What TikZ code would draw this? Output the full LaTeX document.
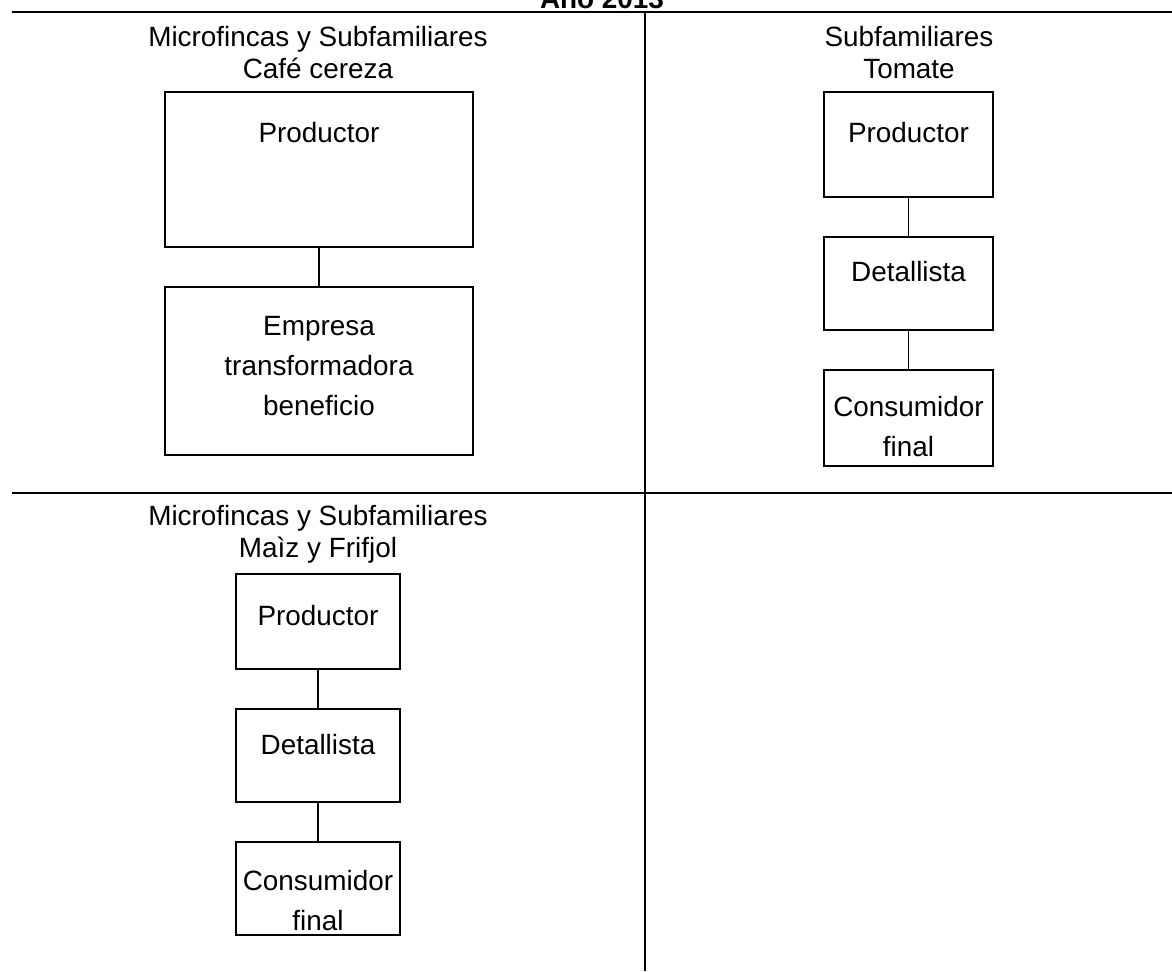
\documentclass[tikz,border=0pt]{standalone}
\usepackage{fontspec}
\setmainfont{Liberation Sans}
\usetikzlibrary{positioning}

\begin{document}
\begin{tikzpicture}[x=0.03cm,y=-0.03cm,node distance=1.2cm,
	flowbox/.style={draw,line width=1.5pt,inner sep=0pt,outer sep=0pt},
	boxtext/.style={align=center,inner sep=0pt,font=\fontsize{23.8}{34}\selectfont},
	head/.style={align=center,inner sep=0pt,font=\fontsize{23.8}{27.3}\selectfont},
	rule/.style={line width=2pt},
	link/.style={line width=1.5pt}]
	\useasboundingbox (0,0) rectangle (1172,971);

	% title (cut by the page edge)
	\node[inner sep=0pt,anchor=base,font=\fontsize{23.8}{27}\selectfont\bfseries] (title) at (602,8) {Año 2013};

	% frame lines
	\draw[rule] (12,12) -- (1172,12);
	\draw[rule] (12,493) -- (1172,493);
	\draw[rule] (645,12) -- (645,971);

	% cafe
	\node[head] (hcafe) at (318,53) {Microfincas y Subfamiliares\\Café cereza};
	\node[flowbox,minimum width=9.24cm,minimum height=4.65cm] (prodA) at (319,169.5) {};
	\node[flowbox,minimum width=9.24cm,minimum height=5.04cm] (empA) [below =of prodA] {};
	\node[boxtext] (tprodA) [below =0.9cm of prodA.north] {Productor};
	\node[boxtext] (tempA) [below =0.87cm of empA.north] {Empresa\\transformadora\\beneficio};
	\draw[link] (prodA) -- (empA);

	% tomate
	\node[head] (htom) at (909,53) {Subfamiliares\\Tomate};
	\node[flowbox,minimum width=5.07cm,minimum height=3.15cm] (prodB) at (908.5,144.5) {};
	\node[flowbox,minimum width=5.07cm,minimum height=2.79cm] (detB) [below =of prodB] {};
	\node[flowbox,minimum width=5.07cm,minimum height=2.88cm] (consB) [below =of detB] {};
	\node[boxtext] (tprodB) [below =0.9cm of prodB.north] {Productor};
	\node[boxtext] (tdetB) [below =0.72cm of detB.north] {Detallista};
	\node[boxtext] (tconsB) [below =0.78cm of consB.north] {Consumidor\\final};
	\draw[link] (prodB) -- (detB);
	\draw[link] (detB) -- (consB);

	% maiz y frijol
	\node[head] (hmaiz) at (318,534) {Microfincas y Subfamiliares\\Maìz y Frifjol};
	\node[flowbox,minimum width=4.92cm,minimum height=2.85cm] (prodC) at (318,621.5) {};
	\node[flowbox,minimum width=4.92cm,minimum height=2.79cm] (detC) [below =of prodC] {};
	\node[flowbox,minimum width=4.92cm,minimum height=2.79cm] (consC) [below =of detC] {};
	\node[boxtext] (tprodC) [below =0.92cm of prodC.north] {Productor};
	\node[boxtext] (tdetC) [below =0.75cm of detC.north] {Detallista};
	\node[boxtext] (tconsC) [below =0.84cm of consC.north] {Consumidor\\final};
	\draw[link] (prodC) -- (detC);
	\draw[link] (detC) -- (consC);
\end{tikzpicture}
\end{document}
